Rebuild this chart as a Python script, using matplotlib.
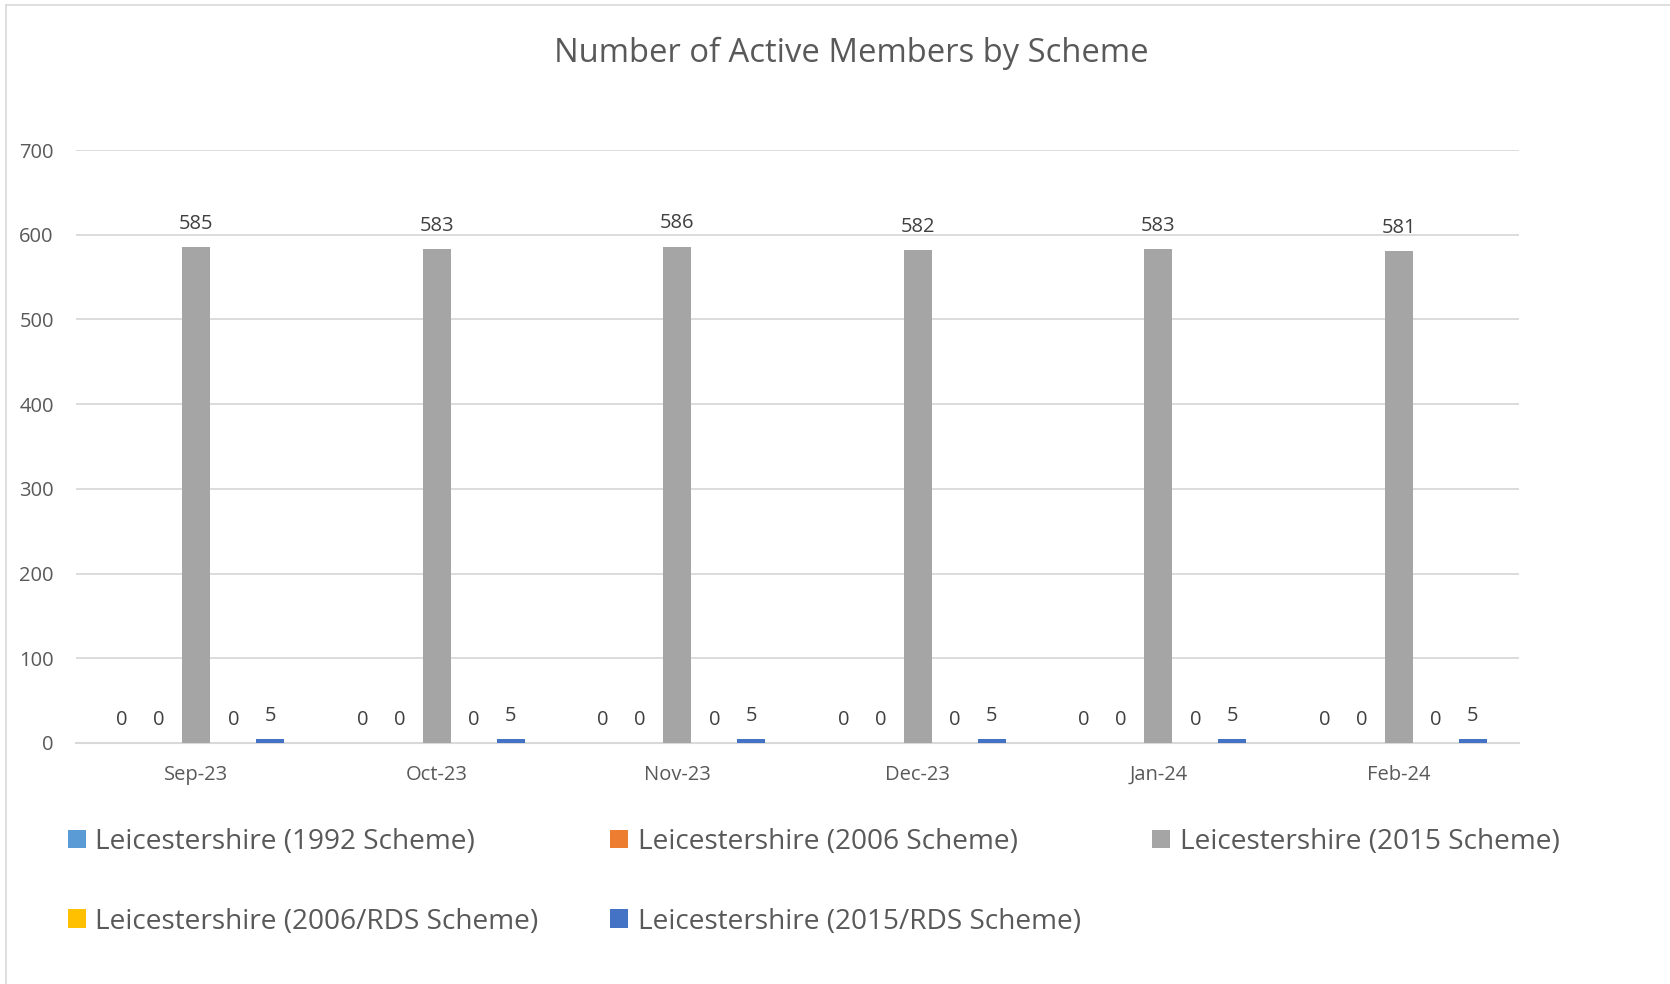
import matplotlib
matplotlib.use("Agg")
import matplotlib.pyplot as plt
from matplotlib.lines import Line2D
import numpy as np

plt.rcParams['font.family'] = ['Open Sans', 'DejaVu Sans']

months = ["Sep-23", "Oct-23", "Nov-23", "Dec-23", "Jan-24", "Feb-24"]
series_names = ["Leicestershire (1992 Scheme)", "Leicestershire (2006 Scheme)",
                "Leicestershire (2015 Scheme)", "Leicestershire (2006/RDS Scheme)",
                "Leicestershire (2015/RDS Scheme)"]
s1992 = [0, 0, 0, 0, 0, 0]
s2006 = [0, 0, 0, 0, 0, 0]
s2015 = [585, 583, 586, 582, 583, 581]
s2006_rds = [0, 0, 0, 0, 0, 0]
s2015_rds = [5, 5, 5, 5, 5, 5]
colors = ["#5B9BD5", "#ED7D31", "#A5A5A5", "#FFC000", "#4472C4"]

text_col = "#595959"
grid_col = "#D9D9D9"

fig = plt.figure(figsize=(16.7, 9.84), dpi=100)
ax = fig.add_axes([76/1670, 241/984, 1443/1670, 593/984])

x = np.arange(len(months))
step = 0.154
width = 0.116
bars = []
for j, vals in enumerate([s1992, s2006, s2015, s2006_rds, s2015_rds]):
	b = ax.bar(x + (j - 2) * step, vals, width, color=colors[j], label=series_names[j], zorder=3)
	ax.bar_label(b, padding=9.5, fontsize=14.5, color="#404040")
	bars.append(b)

ax.set_xlim(-0.5, 5.5)
ax.set_ylim(0, 700)
ax.set_yticks(range(0, 701, 100))
ax.set_xticks(x)
ax.set_xticklabels(months)
ax.yaxis.grid(True, color=grid_col, linewidth=1.3, zorder=0)
for s in ["top", "right", "left"]:
	ax.spines[s].set_visible(False)
ax.spines["bottom"].set_color(grid_col)
ax.spines["bottom"].set_linewidth(1.5)
ax.tick_params(axis="both", length=0, labelsize=14.5, colors=text_col)
ax.tick_params(axis="y", pad=16)
ax.tick_params(axis="x", pad=15.5)

fig.text(851/1670, 1 - 53/984, "Number of Active Members by Scheme", ha="center", va="center",
         fontsize=23.6, color=text_col)

# legend, row-major order
order = [0, 3, 1, 4, 2]
handles = [bars[i] for i in order]
labels = [series_names[i] for i in order]
leg = fig.legend(handles, labels, loc="upper left", bbox_to_anchor=(68/1670, 1 - 828/984),
                 ncol=3, frameon=False, fontsize=20.2, labelcolor=text_col,
                 handlelength=0.64, handleheight=0.64, handletextpad=0.33,
                 columnspacing=2.56, labelspacing=1.84, borderpad=0, borderaxespad=0)

# chart border (cut at right and bottom)
fig.add_artist(Line2D([6/1670, 6/1670], [0, 1 - 5/984], color=grid_col, linewidth=1.2))
fig.add_artist(Line2D([6/1670, 1], [1 - 5/984, 1 - 5/984], color=grid_col, linewidth=1.2))

fig.savefig("out.png", dpi=100)
